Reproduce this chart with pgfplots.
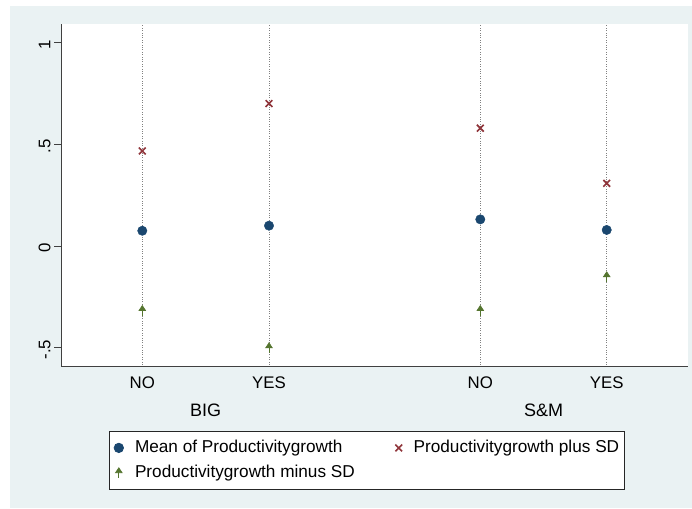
\documentclass[border=0pt]{standalone}
\usepackage{fontspec}
\setmainfont{Liberation Sans}
\usepackage{pgfplots}
\pgfplotsset{compat=1.18}
\definecolor{sbg}{RGB}{234,242,243}
\definecolor{snavy}{RGB}{26,71,111}
\definecolor{smaroon}{RGB}{144,53,59}
\definecolor{sgreen}{RGB}{85,117,47}
\pgfdeclareplotmark{uparrow}{%
 \pgfpathmoveto{\pgfqpoint{0pt}{-5pt}}\pgfpathlineto{\pgfqpoint{0pt}{1pt}}\pgfusepathqstroke
 \pgfsetlinewidth{0.6pt}%
 \pgfpathmoveto{\pgfqpoint{-3.3pt}{0pt}}\pgfpathlineto{\pgfqpoint{0pt}{5pt}}\pgfpathlineto{\pgfqpoint{3.3pt}{0pt}}\pgfpathclose\pgfusepathqfillstroke}
\begin{document}
\begin{tikzpicture}[x=1pt,y=1pt]
\useasboundingbox (0,0) rectangle (692,508);
\fill[white] (0,0) rectangle (692,508);
\fill[sbg] (10,0) rectangle (692,502);
\begin{axis}[at={(61pt,141.3pt)}, anchor=south west, scale only axis,
  width=627pt, height=342.7pt,
  xmin=61, xmax=688, ymin=-0.593, ymax=1.091,
  axis background/.style={fill=white},
  axis x line*=bottom, axis y line*=left,
  axis line style={black!75, line width=1pt},
  xtick={142.3,269,480.3,606.7}, xticklabels={NO,YES,NO,YES},
  ytick={-0.5,0,0.5,1}, yticklabels={-.5,0,.5,1},
  xmajorgrids, major grid style={dotted, black!50, line width=0.8pt},
  x tick style={draw=none}, y tick style={black!75, line width=1pt},
  tick align=outside, major tick length=7pt,
  ticklabel style={font=\fontsize{16.8}{18}\selectfont},
  yticklabel style={rotate=90, anchor=south, xshift=-2pt},
  clip=false,
  legend columns=2, legend cell align=left,
  legend style={at={(0.0761,-0.1885)}, anchor=north west, draw=black!85, fill=white,
    line width=0.8pt, inner xsep=5pt, inner ysep=8.2pt, row sep=8.8pt,
    nodes={inner sep=0pt, text height=12.5pt, text depth=3.5pt},
    font=\fontsize{17.2}{20}\selectfont,
    /tikz/every odd column/.append style={column sep=11.5pt},
    /tikz/every even column/.append style={column sep=40.5pt}},
]
\addplot[only marks, mark=*, mark size=4.7pt, color=snavy] coordinates {(142.3,0.075)(269,0.1)(480.3,0.131)(606.7,0.079)};
\addlegendentry{Mean of Productivitygrowth}
\addplot[only marks, mark=x, mark size=4.8pt, color=smaroon, mark options={line width=1.6pt}] coordinates {(142.3,0.467)(269,0.70)(480.3,0.579)(606.7,0.308)};
\addlegendentry{Productivitygrowth plus SD\hspace{15.5pt}}
\addplot[only marks, mark=uparrow, color=sgreen, mark options={line width=1.3pt}] coordinates {(142.3,-0.317)(269,-0.50)(480.3,-0.317)(606.7,-0.151)};
\addlegendentry{Productivitygrowth minus SD}
\end{axis}
\node[font=\fontsize{18}{20}\selectfont] at (205.7,98) {BIG};
\node[font=\fontsize{18}{20}\selectfont] at (543.5,98) {S\&M};
\end{tikzpicture}
\end{document}
